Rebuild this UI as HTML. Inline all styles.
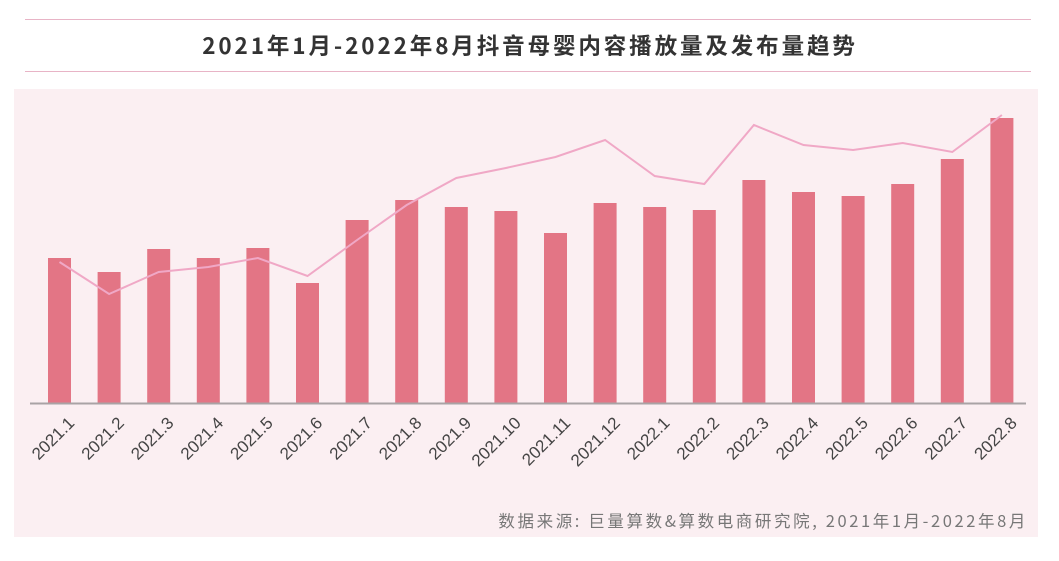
<!DOCTYPE html>
<html><head><meta charset="utf-8"><style>
body{margin:0;width:1059px;height:556px;background:#fff;overflow:hidden;font-family:"Liberation Sans","Noto Sans CJK SC",sans-serif}
</style></head><body>
<svg width="1059" height="556" xmlns="http://www.w3.org/2000/svg">
<line x1="25" y1="19.5" x2="1031" y2="19.5" stroke="#e8b4c6"/>
<line x1="25" y1="71.5" x2="1031" y2="71.5" stroke="#e8b4c6"/>
<text x="530" y="54" text-anchor="middle" font-size="22.5" font-weight="bold" fill="#333" letter-spacing="2.9" font-family="Noto Sans CJK SC, sans-serif">2021年1月-2022年8月抖音母婴内容播放量及发布量趋势</text>
<rect x="14" y="89" width="1024" height="448" fill="#fbeff2"/>
<g id="bars"></g>
<line x1="30" y1="403.5" x2="1026" y2="403.5" stroke="#a9a3a5" stroke-width="2"/>
<polyline id="trend" fill="none" stroke="#f0a8c6" stroke-width="2"/>
<g id="labels"></g>
<text x="1028" y="527" text-anchor="end" font-size="16.5" fill="#777" letter-spacing="2.6" font-family="Noto Sans CJK SC, sans-serif">数据来源: 巨量算数&amp;算数电商研究院, 2021年1月-2022年8月</text>
</svg>
<script>
const categories=["2021.1","2021.2","2021.3","2021.4","2021.5","2021.6","2021.7","2021.8","2021.9","2021.10","2021.11","2021.12","2022.1","2022.2","2022.3","2022.4","2022.5","2022.6","2022.7","2022.8"];
const barValues=[145,131,154,145,155,120,183,203,196,192,170,200,196,193,223,211,207,219,244,285];
const lineValues=[141,109,131,136,145,127,163,198,225,235,246,263,227,219,278,258,253,260,251,288];
const NS="http://www.w3.org/2000/svg";
const baseY=403, x0=59.5, step=49.6, barW=23;
const xPos=i=>x0+i*step;
const yPos=v=>baseY-v;
const bars=document.getElementById('bars');
barValues.forEach((v,i)=>{
 const r=document.createElementNS(NS,'rect');
 r.setAttribute('x',xPos(i)-barW/2);r.setAttribute('y',yPos(v));
 r.setAttribute('width',barW);r.setAttribute('height',v);r.setAttribute('fill','#e37585');
 
 
 bars.appendChild(r);
});
document.getElementById('trend').setAttribute('points',lineValues.map((v,i)=>xPos(i)+','+yPos(v)).join(' '));
const lg=document.getElementById('labels');
categories.forEach((c,i)=>{
 const t=document.createElementNS(NS,'text');
 const x=xPos(i)+16,y=424;
 t.setAttribute('x',x);t.setAttribute('y',y);
 t.setAttribute('text-anchor','end');t.setAttribute('font-size','17');t.setAttribute('fill','#444');
 t.setAttribute('transform','rotate(-45 '+x+' '+y+')');
 t.textContent=c;
 
 
 lg.appendChild(t);
});
</script>
</body></html>
